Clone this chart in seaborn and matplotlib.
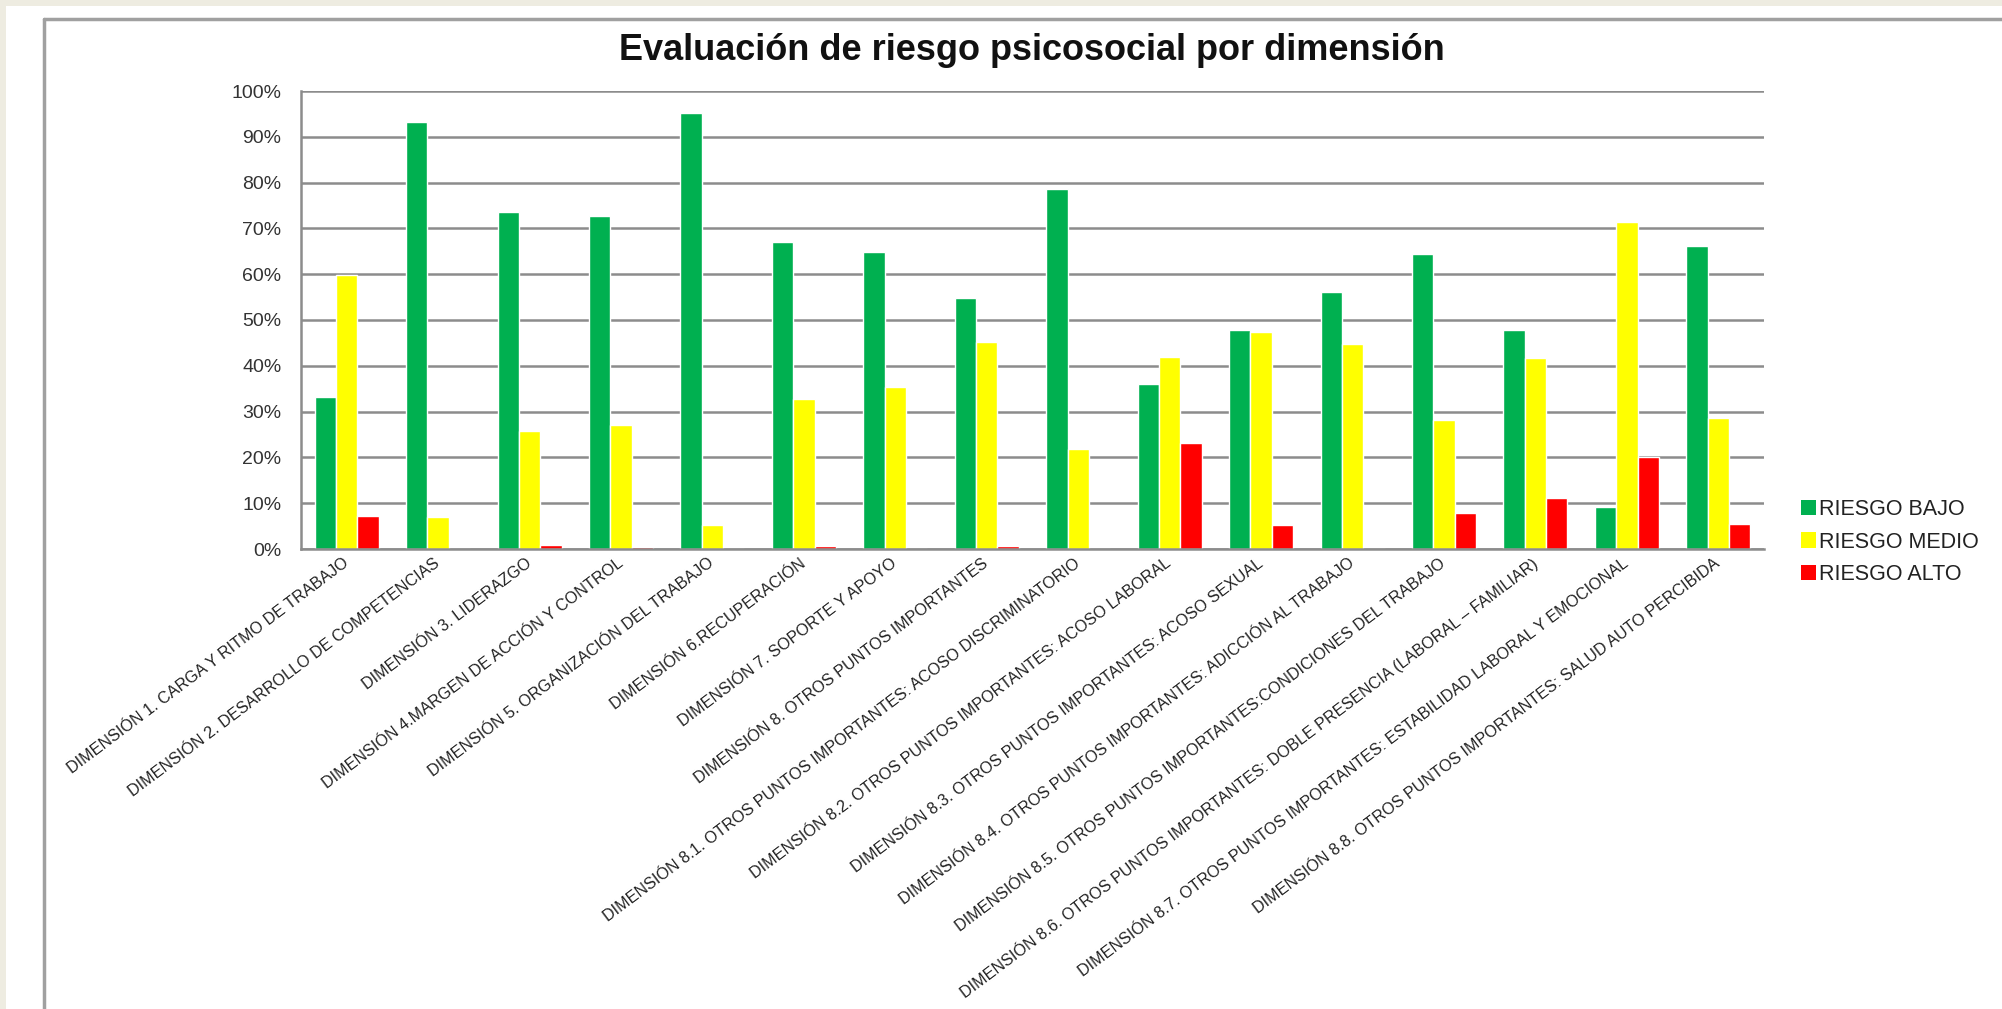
import matplotlib
matplotlib.use("Agg")
import matplotlib.pyplot as plt
import seaborn as sns
import pandas as pd
from matplotlib.patches import Rectangle, Patch
from matplotlib.lines import Line2D
from matplotlib.ticker import PercentFormatter, MultipleLocator

categories = [
    "DIMENSIÓN 1. CARGA Y RITMO DE TRABAJO",
    "DIMENSIÓN 2. DESARROLLO DE COMPETENCIAS",
    "DIMENSIÓN 3. LIDERAZGO",
    "DIMENSIÓN 4.MARGEN DE ACCIÓN Y CONTROL",
    "DIMENSIÓN 5. ORGANIZACIÓN DEL TRABAJO",
    "DIMENSIÓN 6.RECUPERACIÓN",
    "DIMENSIÓN 7. SOPORTE Y APOYO",
    "DIMENSIÓN 8. OTROS PUNTOS IMPORTANTES",
    "DIMENSIÓN 8.1. OTROS PUNTOS IMPORTANTES: ACOSO DISCRIMINATORIO",
    "DIMENSIÓN 8.2. OTROS PUNTOS IMPORTANTES: ACOSO LABORAL",
    "DIMENSIÓN 8.3. OTROS PUNTOS IMPORTANTES: ACOSO SEXUAL",
    "DIMENSIÓN 8.4. OTROS PUNTOS IMPORTANTES: ADICCIÓN AL TRABAJO",
    "DIMENSIÓN 8.5. OTROS PUNTOS IMPORTANTES:CONDICIONES DEL TRABAJO",
    "DIMENSIÓN 8.6. OTROS PUNTOS IMPORTANTES: DOBLE PRESENCIA (LABORAL – FAMILIAR)",
    "DIMENSIÓN 8.7. OTROS PUNTOS IMPORTANTES: ESTABILIDAD LABORAL Y EMOCIONAL",
    "DIMENSIÓN 8.8. OTROS PUNTOS IMPORTANTES: SALUD AUTO PERCIBIDA",
]

series_names = ["RIESGO BAJO", "RIESGO MEDIO", "RIESGO ALTO"]

riesgo_bajo = [0.331, 0.933, 0.735, 0.726, 0.951, 0.671, 0.648, 0.547, 0.786, 0.360, 0.479, 0.562, 0.644, 0.479, 0.092, 0.662]
riesgo_medio = [0.598, 0.069, 0.257, 0.271, 0.052, 0.327, 0.354, 0.451, 0.218, 0.420, 0.474, 0.447, 0.281, 0.418, 0.713, 0.286]
riesgo_alto = [0.073, 0.0, 0.009, 0.005, 0.0, 0.006, 0.0, 0.006, 0.0, 0.231, 0.052, 0.0, 0.079, 0.112, 0.200, 0.055]

colors = ["#00B050", "#FFFF00", "#FF0000"]

df = pd.DataFrame({
    "dim": categories * 3,
    "riesgo": [series_names[0]] * 16 + [series_names[1]] * 16 + [series_names[2]] * 16,
    "valor": riesgo_bajo + riesgo_medio + riesgo_alto,
})

sns.set_theme(style="white")
plt.rcParams["font.family"] = ["Liberation Sans", "DejaVu Sans"]

W, H = 2002, 1009
fig = plt.figure(figsize=(W / 100, H / 100), dpi=100)
fig.patch.set_facecolor("#EEECE1")

# white panel and chart border (behind the axes)
fig.patches.append(Rectangle((6 / W, 0), 1, 1 - 6 / H, transform=fig.transFigure,
                             facecolor="white", edgecolor="none", zorder=-10))
fig.lines.append(Line2D([44 / W, 44 / W], [0, 1 - 19 / H], transform=fig.transFigure,
                        color="#A0A0A0", lw=2.5, zorder=-5))
fig.lines.append(Line2D([44 / W, 1], [1 - 19 / H, 1 - 19 / H], transform=fig.transFigure,
                        color="#A0A0A0", lw=2.5, zorder=-5))

ax = fig.add_axes([301 / W, 1 - 549 / H, (1764 - 301) / W, (549 - 91) / H])
ax.set_zorder(5)
ax.set_facecolor("white")

sns.barplot(data=df, x="dim", y="valor", hue="riesgo", hue_order=series_names,
            order=categories, palette=colors, saturation=1, width=0.70, gap=0,
            legend=False, ax=ax)

ax.set_ylim(0, 1)
ax.set_xlim(-0.5, len(categories) - 0.5)
ax.yaxis.set_major_locator(MultipleLocator(0.1))
ax.yaxis.set_major_formatter(PercentFormatter(1, decimals=0))
ax.grid(axis="y", color="#8C8C8C", lw=1.8)
ax.grid(axis="x", visible=False)
ax.set_axisbelow(True)
for s in ["top", "right"]:
    ax.spines[s].set_visible(False)
for s in ["left", "bottom"]:
    ax.spines[s].set_color("#8C8C8C")
    ax.spines[s].set_linewidth(1.8)
ax.set_xlabel("")
ax.set_ylabel("")
ax.tick_params(axis="y", labelsize=14, labelcolor="#333333", length=0, pad=14)
ax.tick_params(axis="x", length=0, pad=9)
ax.set_xticks(range(len(categories)))
ax.set_xticklabels(categories, rotation=37, ha="right", va="center",
                   rotation_mode="anchor", fontsize=11.6, color="#222222")

fig.text(1032 / W, 1 - 51 / H, "Evaluación de riesgo psicosocial por dimensión",
         ha="center", va="center", fontsize=26, fontweight="bold", color="#111111")

handles = [Patch(facecolor=c, edgecolor="none") for c in colors]
fig.legend(handles, series_names, loc="center left",
           bbox_to_anchor=(1801 / W, 1 - 542 / H), frameon=False,
           fontsize=15.5, handlelength=0.7, handleheight=0.7, handletextpad=0.15,
           labelspacing=0.55, borderpad=0, borderaxespad=0, labelcolor="#222222")

fig.savefig("out.png", dpi=100, facecolor=fig.get_facecolor())
